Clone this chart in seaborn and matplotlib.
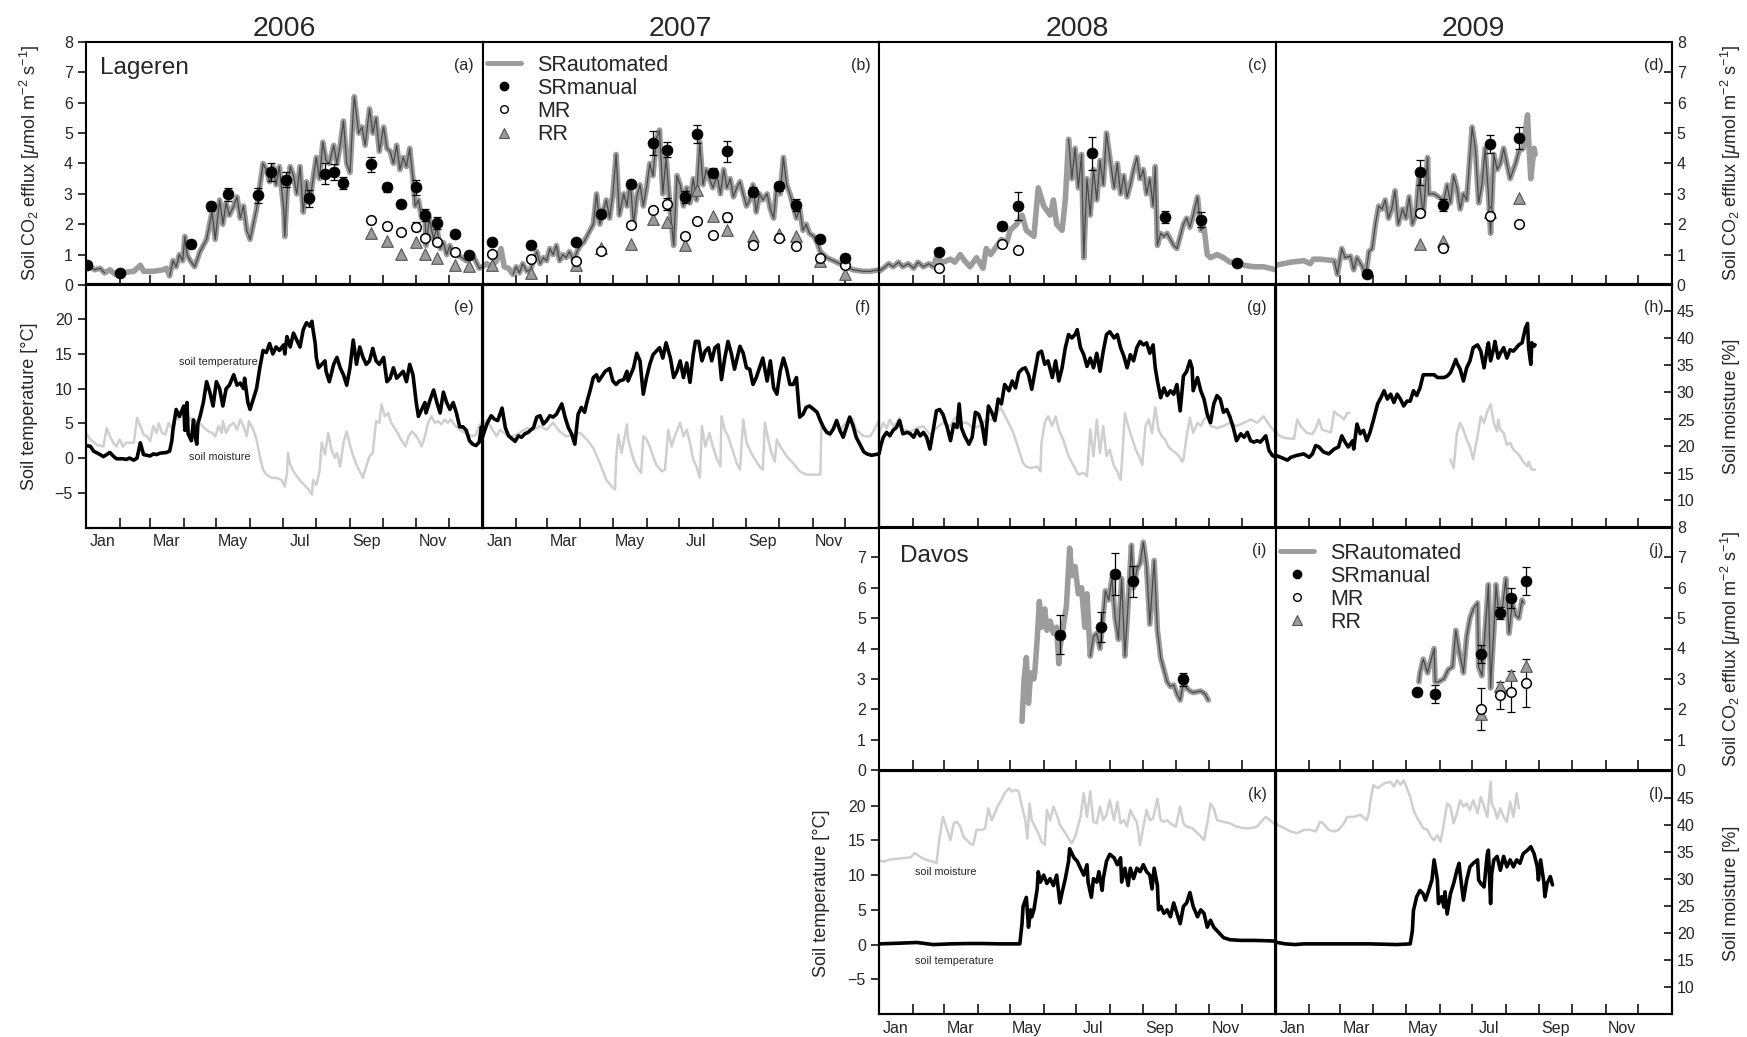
import numpy as np
import matplotlib
matplotlib.use("Agg")
import matplotlib.pyplot as plt
import seaborn as sns
from matplotlib.lines import Line2D
from matplotlib.ticker import FixedLocator, FixedFormatter, NullFormatter

sns.set_theme(style="ticks")
plt.rcParams["font.family"] = ["Liberation Sans", "DejaVu Sans"]
plt.rcParams["mathtext.fontset"] = "custom"
plt.rcParams["mathtext.rm"] = "Liberation Sans"
plt.rcParams["mathtext.it"] = "Liberation Sans:italic"
plt.rcParams["mathtext.bf"] = "Liberation Sans:bold"
plt.rcParams["axes.unicode_minus"] = True

# ---------------------------------------------------------------------------
# Data: (day of year, value) pairs
# ---------------------------------------------------------------------------
years = [2006, 2007, 2008, 2009]
month_names = ["Jan", "Mar", "May", "Jul", "Sep", "Nov"]

# Lageren, automated soil respiration [umol m-2 s-1]
lag_sr_2006 = [(0,0.75),(4,0.6),(8,0.5),(13,0.55),(17,0.4),(22,0.5),(27,0.35),(31,0.4),(37,0.42),(44,0.45),
    (50,0.65),(53,0.45),(62,0.45),(71,0.5),(74,0.55),(77,0.3),(80,0.8),(83,0.6),(86,1.0),(89,0.8),(91,1.6),
    (93,1.0),(96,0.8),(100,0.6),(105,1.1),(111,1.5),(116,2.4),(119,1.5),(123,2.8),(126,2.0),(129,2.7),
    (132,2.3),(136,2.6),(139,2.9),(142,2.2),(145,2.6),(148,1.8),(151,1.5),(157,2.5),(163,4.0),(166,3.8),
    (169,3.4),(172,3.9),(175,3.3),(178,3.9),(182,2.5),(183,1.6),(185,3.0),(188,3.9),(191,3.6),(194,3.0),
    (197,3.9),(200,2.4),(203,3.4),(206,2.7),(209,3.5),(212,4.2),(215,3.5),(218,4.7),(221,4.1),(224,4.0),
    (228,4.6),(231,4.0),(234,4.6),(237,5.4),(240,4.0),(243,3.7),(246,5.7),(247,6.2),(251,5.0),(254,5.2),
    (257,4.6),(261,5.8),(264,5.0),(267,5.5),(270,4.4),(274,5.2),(277,4.5),(280,4.4),(283,4.0),(286,4.6),
    (289,3.8),(292,4.2),(295,3.9),(298,4.5),(301,3.5),(303,2.6),(306,2.8),(309,2.2),(312,2.4),(313,1.3),
    (316,2.2),(320,1.5),(323,1.9),(326,1.2),(329,1.4),(332,1.0),(335,1.3),(338,1.0),(344,0.95),(350,0.8),
    (356,1.0),(362,0.55),(365,0.6)]
lag_sr_2007 = [(0,0.6),(4,0.7),(8,0.6),(13,0.8),(17,1.2),(20,0.6),(24,0.55),(28,0.35),(31,0.6),(34,0.4),
    (37,0.7),(41,0.45),(44,0.5),(47,0.8),(50,1.1),(53,0.7),(56,0.9),(59,0.8),(62,1.2),(65,1.0),(68,1.3),
    (71,0.8),(74,1.0),(77,0.9),(80,1.1),(84,0.8),(87,1.1),(90,1.3),(93,1.4),(96,1.6),(99,1.8),(102,2.0),
    (105,3.0),(108,2.0),(111,2.4),(114,2.8),(117,2.2),(120,3.0),(123,4.3),(126,2.3),(130,3.0),(133,2.6),
    (136,3.4),(139,2.0),(142,2.9),(145,3.3),(148,2.6),(151,3.2),(154,4.0),(157,3.6),(160,4.8),(163,5.1),
    (166,3.0),(169,4.2),(173,2.4),(176,1.3),(179,3.6),(182,3.3),(185,2.6),(188,3.2),(191,2.7),(194,3.5),
    (197,2.8),(200,4.7),(203,3.3),(206,3.8),(209,3.5),(212,3.2),(216,3.6),(219,3.0),(222,3.8),(225,3.2),
    (228,3.5),(231,2.9),(234,3.2),(237,3.4),(240,3.0),(243,2.6),(246,2.8),(249,3.3),(252,2.4),(255,3.0),
    (258,2.8),(262,3.0),(265,2.5),(268,2.2),(271,3.3),(274,3.0),(277,4.2),(280,3.3),(283,3.0),(286,2.6),
    (289,2.2),(292,2.5),(295,1.8),(298,2.0),(301,1.7),(305,1.6),(308,1.4),(311,1.1),(317,0.9),(323,0.8),
    (329,0.7),(335,0.6),(341,0.5),(351,0.45),(357,0.45),(365,0.5)]
lag_sr_2008 = [(0,0.45),(4,0.55),(9,0.7),(13,0.6),(18,0.75),(22,0.6),(27,0.7),(32,0.55),(36,0.75),(41,0.6),
    (46,0.7),(50,0.6),(53,0.9),(59,0.75),(66,0.85),(70,0.75),(75,1.0),(79,0.8),(84,0.6),(90,0.9),(96,0.55),
    (99,1.2),(103,1.0),(109,1.3),(113,1.5),(118,1.4),(121,1.8),(127,2.0),(132,2.3),(136,1.8),(143,1.6),
    (147,3.2),(152,2.6),(158,2.3),(161,2.8),(164,2.0),(169,1.8),(172,2.8),(175,4.8),(178,3.5),(181,4.5),
    (184,3.2),(187,4.3),(189,0.9),(192,3.5),(195,2.3),(198,3.8),(201,2.8),(204,4.1),(207,3.3),(210,5.0),
    (213,4.2),(217,3.2),(220,4.0),(223,3.0),(226,3.6),(229,2.9),(232,3.3),(235,3.8),(238,4.2),(241,3.5),
    (244,3.8),(247,3.0),(250,3.5),(253,2.6),(255,3.9),(257,1.3),(260,1.7),(263,1.6),(266,1.7),(269,1.5),
    (272,1.3),(275,1.2),(278,1.6),(281,2.0),(284,2.2),(287,1.9),(290,2.3),(294,2.9),(297,1.8),(300,1.9),
    (303,1.0),(306,0.9),(312,1.0),(318,0.9),(324,0.75),(330,0.75),(337,0.65),(346,0.6),(355,0.6),
    (361,0.55),(366,0.5)]
lag_sr_2009 = [(0,0.65),(14,0.75),(26,0.8),(32,0.7),(35,0.85),(41,0.85),(54,0.8),(57,0.35),(61,1.2),
    (64,0.9),(69,0.95),(72,0.5),(75,0.9),(80,0.6),(83,0.3),(86,1.1),(89,1.2),(92,2.0),(95,2.6),(98,2.5),
    (101,2.8),(104,2.2),(107,2.5),(110,3.1),(113,2.0),(117,2.5),(120,2.2),(123,2.9),(126,2.0),(129,2.3),
    (132,3.5),(136,2.3),(140,4.2),(141,3.0),(146,3.0),(150,2.9),(155,2.8),(158,3.3),(161,2.7),(164,3.6),
    (167,3.2),(170,2.5),(173,3.0),(176,2.8),(181,5.2),(184,4.5),(187,2.7),(190,3.3),(193,4.5),(196,3.0),
    (198,1.7),(201,4.3),(204,3.8),(207,4.0),(210,4.5),(213,4.0),(216,3.5),(221,4.0),(224,4.4),(228,4.5),
    (232,5.6),(233,4.8),(235,3.5),(238,4.5),(239,4.3)]

# Lageren chamber campaigns: (day, mean, sd)
lag_man_2006 = [(1,0.66,0.08),(31,0.39,0.03),(97,1.36,0.08),(115,2.59,0.15),(131,2.98,0.2),(158,2.95,0.25),
    (170,3.71,0.3),(184,3.47,0.25),(205,2.85,0.28),(220,3.67,0.35),(228,3.72,0.25),(237,3.36,0.2),
    (262,3.97,0.25),(277,3.21,0.15),(290,2.66,0.1),(304,3.21,0.25),(312,2.30,0.2),(323,2.03,0.2),
    (340,1.69,0.08),(353,0.99,0.1)]
lag_mr_2006 = [(262,2.14,0.05),(277,1.93,0.1),(290,1.75,0.1),(304,1.92,0.15),(312,1.56,0.1),(323,1.43,0.05),
    (340,1.10,0.05)]
lag_rr_2006 = [(262,1.70),(277,1.45),(290,1.01),(304,1.43),(312,1.01),(323,0.90),(340,0.66),(353,0.63)]

lag_man_2007 = [(9,1.43,0.05),(45,1.31,0.05),(86,1.43,0.05),(109,2.33,0.1),(137,3.34,0.1),(157,4.68,0.4),
    (170,4.46,0.25),(186,2.89,0.2),(197,4.96,0.3),(212,3.70,0.15),(225,4.40,0.35),(249,3.07,0.15),
    (273,3.25,0.15),(289,2.62,0.2),(311,1.50,0.05),(334,0.89,0.05)]
lag_mr_2007 = [(9,1.02,0.05),(45,0.87,0.05),(86,0.80,0.05),(109,1.12,0.05),(137,1.99,0.05),(157,2.48,0.1),
    (170,2.68,0.2),(186,1.62,0.05),(197,2.12,0.1),(212,1.63,0.05),(225,2.23,0.15),(249,1.31,0.05),
    (273,1.56,0.05),(289,1.28,0.05),(311,0.90,0.05),(334,0.66,0.05)]
lag_rr_2007 = [(9,0.65),(45,0.39),(86,0.65),(109,1.23),(137,1.34),(157,2.17),(170,2.09),(186,1.31),
    (197,3.14),(212,2.28),(225,1.80),(249,1.61),(273,1.69),(289,1.61),(311,0.79),(334,0.35)]

lag_man_2008 = [(55,1.09,0.05),(114,1.95,0.08),(128,2.60,0.45),(197,4.33,0.55),(264,2.24,0.2),
    (297,2.15,0.25),(330,0.73,0.03)]
lag_mr_2008 = [(55,0.55,0.02),(114,1.34,0.05),(128,1.14,0.1)]
lag_rr_2008 = []

lag_man_2009 = [(84,0.37,0.05),(133,3.71,0.42),(154,2.62,0.2),(197,4.64,0.3),(224,4.84,0.35)]
lag_mr_2009 = [(133,2.38,0.03),(154,1.21,0.05),(197,2.28,0.05),(224,2.02,0.03)]
lag_rr_2009 = [(133,1.34),(154,1.45),(197,2.41),(224,2.86)]

# Lageren soil temperature [degC]
lag_ts_2006 = [(0,1.8),(4,1.7),(7,1.0),(13,0.5),(16,0.2),(19,0.5),(22,0.8),(25,0.3),(28,-0.1),(34,-0.1),
    (37,-0.2),(40,0.0),(44,-0.3),(47,0.0),(50,2.2),(53,0.5),(56,0.4),(59,0.3),(62,0.6),(65,0.5),(68,0.7),
    (74,0.8),(77,1.0),(79,2.5),(80,4.0),(83,7.0),(86,6.0),(90,7.5),(91,4.0),(93,8.0),(94,3.5),(97,2.5),
    (99,5.5),(100,3.5),(102,2.0),(103,5.0),(105,6.0),(108,8.0),(111,11.0),(114,9.5),(117,7.5),(120,11.0),
    (123,10.0),(126,7.5),(129,10.0),(132,10.5),(136,12.0),(139,10.5),(142,10.8),(145,10.0),(146,11.5),
    (149,8.0),(151,7.0),(154,8.5),(157,10.0),(160,13.0),(163,15.5),(166,15.2),(169,16.5),(172,15.0),
    (175,16.0),(178,15.5),(182,16.3),(183,15.0),(185,17.5),(188,16.0),(191,18.0),(194,17.0),(197,16.0),
    (200,18.5),(203,19.5),(206,19.0),(208,19.7),(209,18.5),(211,16.5),(212,14.5),(214,13.0),(217,13.5),
    (220,14.0),(221,12.5),(224,11.0),(228,13.5),(231,14.5),(234,13.0),(237,12.0),(240,10.5),(243,13.0),
    (246,17.0),(249,13.5),(252,16.0),(255,14.5),(258,13.5),(261,14.0),(264,15.8),(267,14.0),(270,13.5),
    (274,14.5),(277,11.0),(280,11.5),(283,13.0),(286,11.5),(289,12.0),(292,12.5),(295,11.0),(298,13.5),
    (301,12.0),(304,8.0),(306,6.0),(309,7.0),(312,8.0),(313,6.5),(317,8.5),(320,9.8),(323,8.0),(326,6.5),
    (329,9.5),(332,8.0),(335,7.0),(338,8.0),(341,6.5),(344,4.5),(347,4.5),(350,4.0),(353,2.5),(356,2.0),
    (359,1.8),(362,2.3),(364,4.5),(365,3.5)]
lag_ts_2007 = [(0,3.0),(1,3.5),(4,4.9),(8,6.1),(11,5.6),(14,5.4),(18,7.2),(21,4.4),(24,3.2),(27,2.8),
    (30,2.4),(33,3.2),(36,3.0),(39,3.5),(42,3.7),(47,4.4),(50,5.9),(53,6.1),(56,4.9),(59,5.4),(62,6.1),
    (65,5.9),(68,6.3),(73,7.8),(76,5.9),(79,4.4),(82,3.5),(85,2.0),(88,6.3),(91,7.3),(94,6.6),(96,8.0),
    (99,9.7),(102,11.6),(105,12.0),(107,11.1),(110,11.8),(113,12.5),(117,12.9),(120,11.1),(123,10.6),
    (126,11.1),(130,11.3),(133,12.5),(134,11.1),(139,13.0),(142,15.1),(145,14.0),(148,9.2),(151,11.6),
    (154,13.5),(157,14.9),(160,15.4),(163,15.9),(166,14.4),(169,16.6),(173,14.4),(176,11.6),(179,12.5),
    (182,14.0),(185,11.6),(188,13.7),(191,10.9),(194,14.9),(196,16.8),(199,16.8),(202,14.0),(205,15.4),
    (208,15.9),(211,14.0),(214,15.9),(217,16.3),(220,11.3),(223,14.4),(226,16.8),(229,15.1),(232,12.8),
    (237,16.1),(240,15.1),(243,13.0),(246,12.8),(249,10.6),(252,11.6),(255,13.0),(258,14.4),(262,11.1),
    (265,14.0),(268,10.1),(271,9.2),(274,12.5),(277,14.4),(280,12.8),(283,10.6),(286,10.6),(289,11.6),
    (292,5.9),(295,6.3),(298,7.3),(301,7.5),(305,7.0),(308,6.6),(311,5.4),(314,4.4),(317,3.7),(320,3.5),
    (323,4.2),(326,5.4),(329,4.0),(332,3.0),(335,4.4),(338,5.9),(341,4.7),(344,3.0),(348,1.8),(351,0.9),
    (354,0.6),(358,0.4),(365,0.6)]
lag_ts_2008 = [(0,0.6),(2,2.0),(4,3.0),(7,3.7),(10,3.2),(13,4.0),(16,4.4),(19,5.4),(22,3.5),(26,3.7),
    (29,3.5),(32,3.0),(35,4.0),(38,3.2),(41,3.7),(44,3.0),(47,1.3),(50,4.0),(53,6.8),(56,7.0),(59,6.3),
    (63,4.4),(66,2.5),(69,4.9),(72,4.4),(74,7.8),(76,4.4),(79,3.2),(83,2.0),(86,3.0),(89,6.6),(92,6.3),
    (95,4.9),(98,2.0),(101,7.5),(104,6.6),(107,5.4),(110,8.5),(113,7.8),(116,10.6),(120,9.7),(123,11.1),
    (126,10.1),(129,12.3),(132,12.8),(135,13.0),(138,12.0),(141,9.9),(144,12.5),(147,15.1),(150,15.4),
    (153,13.5),(156,14.0),(160,11.6),(163,14.0),(166,11.1),(169,13.0),(172,15.9),(175,17.8),(178,17.3),
    (181,17.8),(183,18.5),(186,15.9),(189,14.9),(192,13.2),(195,14.4),(198,13.0),(201,15.1),(204,12.5),
    (207,15.4),(210,17.8),(213,18.2),(217,17.3),(220,17.8),(223,15.9),(226,14.7),(229,13.0),(232,14.9),
    (235,14.0),(238,15.9),(241,16.8),(244,16.3),(247,16.6),(250,15.1),(253,16.3),(255,13.0),(257,11.1),
    (260,8.7),(263,10.1),(266,9.0),(269,9.7),(272,9.2),(275,10.6),(278,6.8),(281,11.8),(284,12.5),
    (287,14.0),(289,13.0),(290,9.7),(294,11.6),(297,9.7),(300,8.5),(303,6.3),(306,5.1),(309,7.8),
    (312,9.0),(315,8.5),(318,6.6),(321,7.0),(324,5.9),(327,4.4),(330,2.5),(334,3.5),(337,3.0),(340,3.7),
    (343,2.5),(346,2.3),(349,2.5),(352,2.3),(357,3.2),(360,1.1),(363,0.4),(366,0.1)]
lag_ts_2009 = [(0,0.4),(5,0.1),(11,-0.3),(14,0.1),(20,0.4),(26,0.6),(31,0.1),(34,0.6),(37,1.8),(40,1.6),
    (44,0.9),(49,0.6),(54,1.3),(58,1.6),(61,3.2),(64,2.3),(67,1.6),(71,2.5),(72,1.3),(75,4.9),(78,3.5),
    (81,4.0),(84,2.5),(87,3.7),(90,5.4),(94,7.8),(97,8.7),(100,9.7),(103,8.5),(106,9.2),(109,8.0),
    (112,9.2),(115,8.5),(118,7.5),(121,8.2),(124,8.2),(127,9.7),(130,9.0),(133,10.1),(136,12.0),(140,12.0),
    (143,12.0),(146,12.0),(149,11.6),(155,11.6),(158,11.8),(161,12.3),(163,13.0),(166,14.2),(167,13.7),
    (170,12.8),(173,11.1),(176,13.0),(179,14.0),(182,15.9),(186,16.3),(189,15.4),(192,13.0),(195,15.9),
    (196,16.6),(198,14.0),(201,15.9),(202,16.8),(205,14.4),(207,15.1),(210,15.9),(213,14.4),(216,15.6),
    (219,15.4),(224,16.3),(227,16.6),(230,18.7),(232,19.4),(233,15.9),(235,13.5),(236,16.6),(238,16.1),
    (239,16.3)]

# Lageren soil moisture [%]
lag_sm_2006 = [(0,22.5),(4,21.3),(10,20.3),(16,20.0),(19,23.4),(22,21.9),(25,20.7),(28,20.0),(31,21.3),
    (34,20.0),(37,20.7),(44,20.7),(47,25.3),(50,23.8),(53,22.2),(56,21.9),(59,21.0),(62,23.8),(65,22.5),
    (67,24.3),(70,22.5),(73,22.2),(76,24.4),(79,23.4),(82,25.6),(85,25.0),(88,26.2),(91,25.3),(94,24.7),
    (97,25.3),(100,23.8),(103,24.4),(106,24.1),(109,23.4),(113,22.8),(116,22.5),(119,21.9),(122,23.8),
    (125,22.5),(126,24.7),(129,22.5),(132,23.8),(136,24.4),(139,23.1),(142,25.0),(145,23.8),(148,21.9),
    (150,24.7),(154,23.1),(157,21.3),(160,18.2),(163,15.7),(166,14.8),(171,14.2),(175,14.2),(180,13.8),
    (183,12.6),(185,15.1),(186,18.8),(188,16.6),(191,15.4),(194,14.5),(198,13.5),(201,12.9),(205,12.0),
    (208,11.1),(209,13.8),(212,12.9),(215,15.4),(217,20.7),(220,18.5),(223,22.5),(226,19.4),(229,17.9),
    (231,18.8),(234,16.3),(237,20.7),(240,22.8),(243,20.3),(246,18.2),(249,16.6),(252,15.4),(255,14.2),
    (258,16.3),(261,18.2),(264,18.8),(267,24.7),(270,24.4),(272,27.8),(275,25.6),(278,26.2),(281,24.4),
    (284,23.4),(287,22.5),(290,21.3),(294,20.0),(297,21.9),(300,22.8),(303,22.2),(306,21.3),(309,20.0),
    (312,21.9),(315,24.4),(318,25.6),(321,24.4),(324,24.7),(327,24.1),(330,25.0),(333,24.4),(336,25.0),
    (340,23.8),(343,23.4),(346,22.8),(349,22.5),(352,22.2),(356,21.9),(359,22.2),(362,23.8),(365,24.7)]
lag_sm_2007 = [(0,23.8),(4,25.0),(7,23.8),(13,21.9),(16,23.1),(22,22.2),(28,21.9),(34,22.5),(41,23.4),
    (47,23.1),(53,23.8),(59,23.1),(65,24.4),(71,22.8),(77,21.9),(84,22.2),(90,22.5),(96,21.3),(102,19.7),
    (108,16.9),(114,13.8),(119,12.6),(122,12.0),(123,17.6),(125,22.2),(128,18.8),(133,24.1),(134,21.3),
    (139,17.6),(142,16.3),(146,15.1),(148,21.9),(151,21.3),(154,20.0),(157,18.2),(160,16.6),(165,15.4),
    (168,15.7),(171,23.1),(174,20.0),(177,21.9),(182,24.4),(185,21.9),(188,23.1),(191,20.7),(194,17.6),
    (197,16.3),(200,14.2),(202,23.8),(205,20.0),(209,22.5),(212,20.0),(216,17.6),(219,16.3),(220,25.6),
    (223,23.1),(226,21.9),(231,18.8),(234,16.9),(237,15.7),(240,25.0),(243,20.7),(249,18.2),(255,16.3),
    (258,15.7),(260,24.4),(263,21.3),(266,18.8),(269,17.2),(271,21.3),(274,20.0),(280,18.2),(286,16.9),
    (292,15.4),(298,14.8),(305,14.8),(311,14.8),(312,23.8),(317,22.5),(320,21.9),(323,23.8),(326,25.0),
    (329,22.8),(332,23.8),(335,24.4),(338,25.6),(341,25.0),(344,23.1),(351,21.9),(357,21.9),(365,24.7)]
lag_sm_2008 = [(0,22.5),(4,24.4),(7,23.4),(10,25.0),(13,23.8),(16,24.4),(19,25.3),(22,23.1),(29,22.8),
    (35,23.4),(41,23.8),(47,22.2),(53,23.4),(59,24.4),(66,23.8),(69,25.0),(72,25.6),(75,24.4),(81,24.4),
    (87,23.4),(93,23.8),(99,25.0),(106,25.0),(112,27.2),(115,26.2),(118,25.0),(121,23.8),(124,22.5),
    (127,20.7),(130,18.8),(133,16.9),(136,16.3),(140,16.0),(146,16.3),(149,15.4),(150,20.7),(153,24.4),
    (156,25.6),(160,23.8),(163,25.6),(166,23.1),(170,21.3),(175,18.2),(180,16.3),(184,14.8),(189,15.1),
    (192,14.5),(195,23.1),(198,18.2),(201,25.0),(204,18.8),(207,23.8),(210,18.2),(213,19.4),(217,16.3),
    (220,15.4),(223,13.8),(224,16.3),(227,26.2),(230,23.8),(233,21.9),(237,19.4),(240,18.2),(243,16.6),
    (246,23.8),(249,25.0),(252,22.5),(255,27.2),(258,23.1),(261,21.9),(264,21.3),(267,20.0),(270,19.4),
    (274,18.8),(277,18.2),(280,17.2),(281,17.6),(284,21.9),(287,25.3),(290,22.5),(294,24.4),(297,23.8),
    (300,25.0),(303,25.6),(306,23.8),(312,23.4),(318,23.8),(324,24.4),(330,23.8),(337,24.4),(343,25.0),
    (349,24.4),(355,25.6),(361,23.8),(366,22.5)]
lag_sm_2009_a = [(0,23.1),(2,22.2),(8,21.6),(17,21.4),(20,25.0),(23,23.8),(29,22.5),(34,22.3),(38,23.8),
    (40,25.0),(43,23.1),(48,22.8),(51,22.6),(54,26.5),(57,25.9),(60,25.6),(63,25.0),(66,26.2),(68,26.2)]
lag_sm_2009_b = [(161,17.6),(164,16.0),(167,22.5),(170,24.4),(173,23.1),(176,21.3),(179,20.0),(182,17.6),
    (186,21.9),(189,25.6),(192,24.4),(195,26.5),(198,27.8),(201,24.4),(204,22.8),(205,25.0),(207,23.1),
    (210,22.5),(213,20.3),(216,20.7),(219,19.4),(224,18.5),(228,17.2),(232,16.3),(233,17.2),(236,15.7),
    (239,15.7)]

# Davos, automated soil respiration [umol m-2 s-1]
dav_sr_2008 = [(132,1.6),(134,3.0),(136,3.7),(138,2.2),(140,3.2),(143,3.0),(144,3.3),(146,4.3),(148,5.55),
    (150,4.7),(153,5.3),(155,4.6),(158,4.9),(161,4.5),(164,4.7),(166,3.5),(167,4.0),(170,4.7),(173,5.4),
    (176,7.3),(178,6.4),(181,6.7),(184,5.8),(187,6.0),(190,4.7),(192,5.8),(195,3.75),(198,4.4),(201,4.5),
    (204,4.0),(206,4.7),(209,5.9),(212,5.6),(215,6.3),(218,5.0),(221,4.3),(224,6.3),(227,3.75),(230,5.5),
    (233,7.4),(235,6.0),(238,6.6),(241,6.8),(244,7.5),(247,6.7),(250,4.8),(254,6.9),(257,4.6),(260,3.7),
    (263,3.3),(266,2.9),(269,2.75),(272,2.8),(275,2.5),(278,2.3),(281,2.9),(284,2.7),(287,2.6),(290,2.55),
    (297,2.6),(301,2.5),(304,2.3)]
dav_sr_2009 = [(132,2.9),(133,3.2),(136,3.65),(140,3.2),(143,3.6),(146,4.0),(147,2.9),(150,2.9),(155,3.0),
    (159,3.3),(163,3.4),(166,4.6),(169,3.9),(172,3.4),(173,3.2),(176,4.4),(179,5.0),(182,5.3),(186,5.5),
    (187,3.4),(190,3.1),(193,4.6),(196,6.1),(198,2.7),(199,3.4),(201,4.6),(203,6.1),(205,5.3),(209,5.4),
    (212,6.3),(215,4.5),(218,5.5),(221,5.1),(224,5.0),(227,5.6),(228,5.5)]

dav_man_2008 = [(167,4.46,0.65),(205,4.71,0.5),(218,6.45,0.7),(234,6.21,0.5),(281,2.98,0.2)]
dav_mr_2008 = []
dav_rr_2008 = []
dav_man_2009 = [(130,2.56,0.05),(147,2.49,0.3),(189,3.81,0.3),(207,5.16,0.2),(217,5.66,0.33),(231,6.23,0.46)]
dav_mr_2009 = [(189,2.0,0.69),(207,2.46,0.44),(217,2.58,0.68),(231,2.86,0.8)]
dav_rr_2009 = [(189,1.83),(207,2.77),(217,3.12),(231,3.43)]

# Davos soil temperature [degC]
dav_ts_2008 = [(0,0.1),(19,0.2),(35,0.3),(50,0.0),(66,0.1),(81,0.15),(96,0.15),(112,0.1),(130,0.1),
    (132,3.0),(133,5.5),(136,6.8),(138,2.5),(140,5.0),(141,4.0),(143,5.0),(146,8.0),(147,10.5),(149,9.0),
    (152,10.0),(155,8.8),(158,9.5),(161,8.5),(164,10.0),(167,6.0),(169,7.5),(172,9.5),(175,12.0),
    (176,13.8),(180,12.5),(183,12.0),(186,11.0),(189,10.0),(192,11.5),(193,9.0),(196,6.8),(198,9.5),
    (201,9.0),(203,10.5),(206,7.8),(207,9.5),(210,12.0),(213,13.0),(217,12.5),(220,11.5),(223,12.5),
    (224,9.0),(227,11.0),(230,8.5),(232,11.0),(235,9.5),(238,11.0),(241,10.5),(244,11.5),(247,10.5),
    (250,10.0),(252,8.0),(254,11.0),(257,8.5),(258,5.0),(260,5.5),(263,4.5),(266,5.0),(269,4.0),(272,6.0),
    (275,4.5),(278,3.0),(281,5.5),(284,6.0),(287,7.5),(290,5.5),(294,4.0),(297,5.0),(300,4.5),(303,2.5),
    (306,3.5),(309,2.5),(312,2.0),(315,1.5),(318,1.0),(324,0.7),(334,0.6),(346,0.6),(358,0.55),(366,0.5)]
dav_ts_2009 = [(0,0.35),(9,0.1),(18,0.0),(26,0.1),(57,0.1),(87,0.1),(112,0.0),(124,0.1),(126,2.0),(127,4.9),
    (130,6.9),(133,7.8),(136,7.3),(138,6.4),(141,7.8),(144,9.3),(146,12.2),(149,9.3),(150,5.9),(153,6.9),
    (155,5.4),(156,7.6),(158,4.4),(161,7.3),(164,8.8),(167,10.7),(169,11.7),(170,10.2),(173,6.4),(176,9.3),
    (179,11.2),(182,11.7),(186,12.2),(187,9.3),(189,8.8),(192,8.3),(195,13.1),(196,13.6),(198,5.9),
    (199,10.2),(201,12.2),(204,12.7),(207,10.7),(210,12.7),(213,11.2),(216,12.2),(219,11.2),(222,12.2),
    (225,11.7),(228,13.1),(232,13.6),(235,14.1),(238,13.1),(241,11.2),(242,9.3),(244,12.2),(247,9.0),
    (248,6.9),(250,8.8),(253,9.8),(255,8.6)]

# Davos soil moisture [%]
dav_sm_2008 = [(0,33.5),(4,33.2),(10,33.6),(19,33.8),(29,34.0),(33,34.8),(38,34.1),(44,33.5),(50,33.2),
    (53,32.9),(56,37.8),(59,41.5),(63,39.1),(66,37.2),(69,40.3),(72,40.6),(75,39.7),(78,37.8),(81,37.2),
    (84,36.6),(87,36.3),(90,39.1),(95,39.1),(98,39.4),(101,43.1),(104,40.9),(107,42.2),(110,43.7),
    (113,44.6),(116,45.9),(120,46.8),(123,46.2),(126,46.5),(129,46.2),(132,43.4),(135,40.9),(137,37.5),
    (139,44.0),(141,40.9),(144,39.7),(147,38.5),(150,36.9),(153,36.3),(155,42.8),(158,40.9),(161,43.4),
    (164,41.9),(167,40.0),(172,38.5),(175,37.5),(178,36.6),(181,37.8),(186,41.5),(189,45.9),(192,41.5),
    (195,46.2),(198,40.6),(201,40.3),(204,43.4),(207,40.9),(210,41.9),(213,44.6),(217,40.9),(220,44.3),
    (223,40.3),(226,40.9),(229,39.7),(232,42.8),(235,41.5),(238,40.6),(241,36.3),(244,39.7),(247,42.8),
    (250,40.9),(253,41.2),(257,44.9),(260,40.9),(263,40.6),(266,40.9),(269,40.3),(274,39.7),(278,43.4),
    (281,40.3),(284,39.7),(289,39.4),(294,38.5),(300,37.2),(303,40.3),(306,44.0),(309,43.1),(312,40.9),
    (318,40.6),(324,40.3),(330,39.7),(337,39.4),(343,39.4),(349,39.7),(354,40.9),(357,41.5),(361,40.9),
    (366,40.0)]
dav_sm_2009 = [(0,40.6),(2,40.0),(8,39.4),(14,38.8),(20,38.5),(26,39.1),(32,39.1),(37,38.8),(41,40.6),
    (44,40.3),(49,39.1),(54,38.8),(58,39.1),(63,40.3),(66,41.5),(72,41.5),(78,41.9),(84,40.9),(86,42.2),
    (87,44.0),(90,47.4),(94,46.8),(100,47.7),(106,48.0),(109,47.1),(112,48.3),(115,47.4),(118,48.3),
    (121,46.8),(124,45.2),(127,42.8),(130,41.5),(136,39.4),(140,39.1),(143,37.8),(146,37.2),(149,38.1),
    (152,36.9),(155,40.3),(158,44.0),(161,43.4),(164,40.3),(167,42.2),(170,44.6),(173,43.4),(176,44.0),
    (179,42.8),(182,44.6),(186,42.2),(189,45.2),(192,43.4),(195,41.5),(198,48.0),(199,44.0),(202,42.8),
    (204,41.2),(207,43.1),(210,41.5),(213,40.6),(216,44.3),(219,41.5),(222,45.9),(224,43.1)]

# Days covered by the second (dark) automated-chamber trace
lag_dark_spans = {2006: [(0, 20), (75, 365)], 2007: [(25, 365)],
                  2008: [(0, 52), (175, 302)], 2009: [(54, 224)]}
dav_dark_spans = {2008: [(195, 304)], 2009: [(130, 235)]}

# ---------------------------------------------------------------------------
# Styling
# ---------------------------------------------------------------------------
SR_LIGHT = "#9c9c9c"
SR_DARK = "#484848"
SM_COLOR = "#cfcfcf"
TS_COLOR = "#000000"
RR_FACE = "#9b9b9b"
RR_EDGE = "#555555"
TICK_FS = 11.5
LABEL_FS = 13
EFFLUX_LABEL = r"Soil CO$_2$ efflux [$\mu$mol m$^{-2}$ s$^{-1}$]"
TEMP_LABEL = "Soil temperature [°C]"
MOIST_LABEL = "Soil moisture [%]"

W, H = 1747, 1037
fig = plt.figure(figsize=(W / 100, H / 100), dpi=100)

col_left = [86, 482.5, 879, 1275.5]
col_w = 396.5
row_top = [42, 284.5, 527, 771]
row_h = 243


def make_ax(row, col):
    l = col_left[col] / W
    b = 1 - (row_top[row] + row_h) / H
    return fig.add_axes([l, b, col_w / W, row_h / H])


def month_grid(year):
    lengths = [31, 29 if year % 4 == 0 else 28, 31, 30, 31, 30, 31, 31, 30, 31, 30, 31]
    starts = np.concatenate([[0], np.cumsum(lengths)])
    mids = starts[:-1] + np.array(lengths) / 2.0
    return starts, mids


def style_x(ax, year, labels):
    starts, mids = month_grid(year)
    ax.set_xlim(0, starts[-1])
    ax.xaxis.set_major_locator(FixedLocator(starts[1:-1]))
    ax.xaxis.set_major_formatter(NullFormatter())
    ax.xaxis.set_minor_locator(FixedLocator(mids[::2]))
    ax.xaxis.set_minor_formatter(FixedFormatter(month_names) if labels else NullFormatter())
    ax.tick_params(axis="x", which="major", direction="in", length=7, width=1.1,
                   bottom=True, top=False, color="black")
    ax.tick_params(axis="x", which="minor", length=0, pad=5, labelsize=TICK_FS,
                   bottom=True, top=False, labelbottom=labels)
    ax.set_xlabel("")


def style_y(ax, side, ticks):
    ax.set_ylabel("")
    if side is None:
        ax.tick_params(axis="y", which="both", left=False, right=False,
                       labelleft=False, labelright=False)
        return
    ax.yaxis.set_major_locator(FixedLocator(ticks))
    if side == "left":
        ax.yaxis.tick_left()
        ax.tick_params(axis="y", direction="out", length=6, width=1.1, labelsize=TICK_FS,
                       left=True, right=False, labelleft=True, labelright=False, color="black")
    else:
        ax.yaxis.tick_right()
        ax.tick_params(axis="y", direction="in", length=6, width=1.1, labelsize=TICK_FS,
                       left=False, right=True, labelleft=False, labelright=True, color="black")


def frame(ax):
    for sp in ax.spines.values():
        sp.set_visible(True)
        sp.set_color("black")
        sp.set_linewidth(1.5)


def split(pairs):
    a = np.asarray(pairs, dtype=float)
    return a[:, 0], a[:, 1]


def draw_sr(ax, pairs, spans):
    d, v = split(pairs)
    sns.lineplot(x=d, y=v, ax=ax, color=SR_LIGHT, linewidth=4.0, estimator=None, sort=False, zorder=2)
    for lo, hi in spans:
        m = (d >= lo) & (d <= hi)
        if m.sum() > 1:
            sns.lineplot(x=d[m], y=v[m], ax=ax, color=SR_DARK, linewidth=0.9,
                         estimator=None, sort=False, zorder=3)


def draw_campaigns(ax, man, mr, rr):
    if rr:
        a = np.asarray(rr, dtype=float)
        if a.shape[1] == 3:
            ax.errorbar(a[:, 0], a[:, 1], yerr=a[:, 2], fmt="none", ecolor="black",
                        elinewidth=0.9, capsize=3, capthick=0.9, zorder=4)
        sns.scatterplot(x=a[:, 0], y=a[:, 1], ax=ax, marker="^", s=70, color=RR_FACE,
                        edgecolor=RR_EDGE, linewidth=0.8, zorder=5)
    if mr:
        a = np.asarray(mr, dtype=float)
        ax.errorbar(a[:, 0], a[:, 1], yerr=a[:, 2], fmt="none", ecolor="black",
                    elinewidth=0.9, capsize=3, capthick=0.9, zorder=4)
        sns.scatterplot(x=a[:, 0], y=a[:, 1], ax=ax, marker="o", s=48, color="white",
                        edgecolor="black", linewidth=1.1, zorder=6)
    if man:
        a = np.asarray(man, dtype=float)
        ax.errorbar(a[:, 0], a[:, 1], yerr=a[:, 2], fmt="none", ecolor="black",
                    elinewidth=0.9, capsize=3, capthick=0.9, zorder=4)
        sns.scatterplot(x=a[:, 0], y=a[:, 1], ax=ax, marker="o", s=62, color="black",
                        edgecolor="black", linewidth=0.5, zorder=7)


def panel_tag(ax, tag):
    ax.text(0.978, 0.905, tag, transform=ax.transAxes, ha="right", va="center", fontsize=11.5)


def legend(ax, y):
    handles = [Line2D([], [], color=SR_LIGHT, lw=3.5),
               Line2D([], [], ls="none", marker="o", ms=6, mfc="black", mec="black"),
               Line2D([], [], ls="none", marker="o", ms=5.5, mfc="white", mec="black", mew=1.0),
               Line2D([], [], ls="none", marker="^", ms=6.5, mfc=RR_FACE, mec=RR_EDGE, mew=0.8)]
    ax.legend(handles, ["SRautomated", "SRmanual", "MR", "RR"], loc="upper left",
              bbox_to_anchor=(0.011, y), frameon=False, fontsize=15.5, handlelength=1.6,
              handletextpad=0.75, labelspacing=0.1, borderpad=0, borderaxespad=0)


def climate_panel(row, col, year, ts, sm_list, tick_left, tick_right, labels):
    ax = make_ax(row, col)
    ax2 = ax.twinx()
    for sm in sm_list:
        d, v = split(sm)
        sns.lineplot(x=d, y=v, ax=ax2, color=SM_COLOR, linewidth=1.8, estimator=None, sort=False)
    d, v = split(ts)
    sns.lineplot(x=d, y=v, ax=ax, color=TS_COLOR, linewidth=2.6, estimator=None, sort=False)
    ax.set_ylim(-10, 25)
    ax2.set_ylim(5, 50)
    ax.set_zorder(ax2.get_zorder() + 1)
    ax.patch.set_visible(False)
    style_x(ax, year, labels)
    style_y(ax, "left" if tick_left else None, [-5, 0, 5, 10, 15, 20])
    style_y(ax2, "right" if tick_right else None, [10, 15, 20, 25, 30, 35, 40, 45])
    frame(ax)
    frame(ax2)
    return ax


def efflux_panel(row, col, year, sr, spans, man, mr, rr, side, ticks):
    ax = make_ax(row, col)
    draw_sr(ax, sr, spans)
    draw_campaigns(ax, man, mr, rr)
    ax.set_ylim(0, 8)
    style_x(ax, year, False)
    style_y(ax, side, ticks)
    frame(ax)
    return ax


# ---------------------------------------------------------------------------
# Lageren: efflux (row 0) and soil climate (row 1)
# ---------------------------------------------------------------------------
lag_sr = {2006: lag_sr_2006, 2007: lag_sr_2007, 2008: lag_sr_2008, 2009: lag_sr_2009}
lag_man = {2006: lag_man_2006, 2007: lag_man_2007, 2008: lag_man_2008, 2009: lag_man_2009}
lag_mr = {2006: lag_mr_2006, 2007: lag_mr_2007, 2008: lag_mr_2008, 2009: lag_mr_2009}
lag_rr = {2006: lag_rr_2006, 2007: lag_rr_2007, 2008: lag_rr_2008, 2009: lag_rr_2009}
lag_ts = {2006: lag_ts_2006, 2007: lag_ts_2007, 2008: lag_ts_2008, 2009: lag_ts_2009}
lag_sm = {2006: [lag_sm_2006], 2007: [lag_sm_2007], 2008: [lag_sm_2008],
          2009: [lag_sm_2009_a, lag_sm_2009_b]}

tags_top = ["(a)", "(b)", "(c)", "(d)"]
tags_mid = ["(e)", "(f)", "(g)", "(h)"]
for c, yr in enumerate(years):
    side = "left" if c == 0 else ("right" if c == 3 else None)
    ax = efflux_panel(0, c, yr, lag_sr[yr], lag_dark_spans[yr], lag_man[yr], lag_mr[yr], lag_rr[yr],
                      side, list(range(0, 9)))
    ax.set_title(str(yr), fontsize=20.5, pad=4)
    panel_tag(ax, tags_top[c])
    if c == 0:
        ax.text(0.035, 0.893, "Lageren", transform=ax.transAxes, ha="left", va="center", fontsize=17.5)
    if c == 1:
        legend(ax, 0.948)

    axc = climate_panel(1, c, yr, lag_ts[yr], lag_sm[yr], c == 0, c == 3, c < 2)
    panel_tag(axc, tags_mid[c])
    if c == 0:
        axc.text(122, 13.8, "soil temperature", ha="center", va="center", fontsize=7.8)
        axc.text(123, 0.2, "soil moisture", ha="center", va="center", fontsize=7.8)

# ---------------------------------------------------------------------------
# Davos: efflux (row 2) and soil climate (row 3)
# ---------------------------------------------------------------------------
ax_i = efflux_panel(2, 2, 2008, dav_sr_2008, dav_dark_spans[2008], dav_man_2008, dav_mr_2008,
                    dav_rr_2008, "left", list(range(0, 8)))
panel_tag(ax_i, "(i)")
ax_i.text(0.053, 0.88, "Davos", transform=ax_i.transAxes, ha="left", va="center", fontsize=17.5)

ax_j = efflux_panel(2, 3, 2009, dav_sr_2009, dav_dark_spans[2009], dav_man_2009, dav_mr_2009,
                    dav_rr_2009, "right", list(range(0, 9)))
panel_tag(ax_j, "(j)")
legend(ax_j, 0.936)

ax_k = climate_panel(3, 2, 2008, dav_ts_2008, [dav_sm_2008], True, False, True)
panel_tag(ax_k, "(k)")
ax_k.text(33, 10.5, "soil moisture", ha="left", va="center", fontsize=7.8)
ax_k.text(33, -2.4, "soil temperature", ha="left", va="center", fontsize=7.8)

ax_l = climate_panel(3, 3, 2009, dav_ts_2009, [dav_sm_2009], False, True, True)
panel_tag(ax_l, "(l)")

# ---------------------------------------------------------------------------
# Axis titles
# ---------------------------------------------------------------------------
def vlabel(xpx, ypx, text):
    fig.text(xpx / W, 1 - ypx / H, text, rotation=90, ha="center", va="center", fontsize=LABEL_FS)


vlabel(30, 163, EFFLUX_LABEL)
vlabel(29, 406, TEMP_LABEL)
vlabel(1731, 163, EFFLUX_LABEL)
vlabel(1731, 406, MOIST_LABEL)
vlabel(1731, 649, EFFLUX_LABEL)
vlabel(1731, 893, MOIST_LABEL)
vlabel(822, 893, TEMP_LABEL)

fig.savefig("out.png", dpi=100)
